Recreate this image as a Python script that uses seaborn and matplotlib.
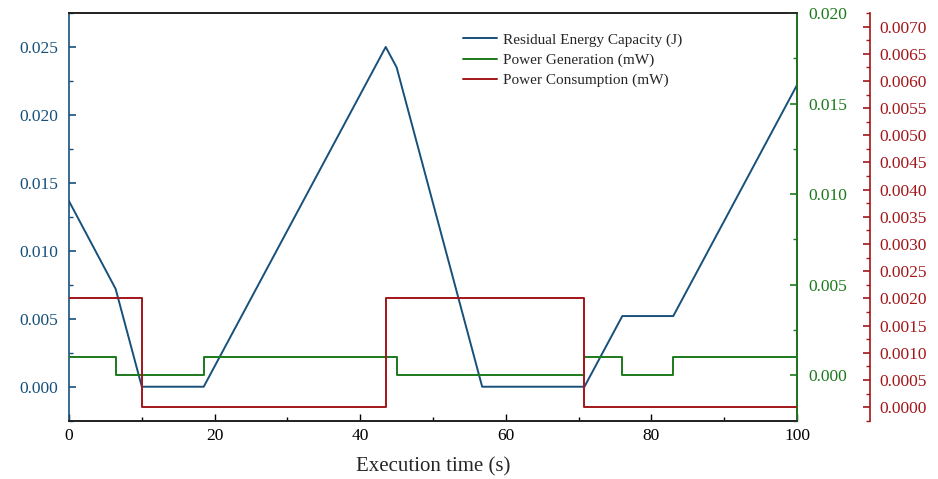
import numpy as np
import pandas as pd
import matplotlib
matplotlib.use("Agg")
import matplotlib.pyplot as plt
from matplotlib.ticker import MultipleLocator
import seaborn as sns

# residual energy capacity (J), piecewise linear
energy_t = [0, 6.4, 10, 18.5, 43.5, 45, 56.75, 70.8, 76, 83, 100]
energy_j = [0.01365, 0.0072, 0.0, 0.0, 0.025, 0.0235, 0.0, 0.0, 0.0052, 0.0052, 0.0222]

# power generation (mW), step changes
gen_t = [0, 6.4, 18.5, 45, 70.8, 76, 83, 100]
gen_mw = [0.001, 0.0, 0.001, 0.0, 0.001, 0.0, 0.001, 0.001]

# power consumption (mW), step changes
cons_t = [0, 10, 43.5, 70.8, 100]
cons_mw = [0.002, 0.0, 0.002, 0.0, 0.0]

c_blue = "#17507a"
c_green = "#1c7a1c"
c_red = "#a3161a"

sns.set_theme(style="white")
plt.rcParams['font.family'] = ['Liberation Serif', 'DejaVu Serif']

fig = plt.figure(figsize=(9.38, 4.79), dpi=100)
ax = fig.add_axes([0.0736, 0.1217, 0.7761, 0.8512])
ax2 = ax.twinx()
ax3 = ax.twinx()

df_e = pd.DataFrame({"t": energy_t, "v": energy_j})
df_g = pd.DataFrame({"t": gen_t, "v": gen_mw})
df_c = pd.DataFrame({"t": cons_t, "v": cons_mw})

sns.lineplot(data=df_e, x="t", y="v", ax=ax, color=c_blue, lw=1.4,
             label="Residual Energy Capacity (J)", legend=False)
sns.lineplot(data=df_g, x="t", y="v", ax=ax2, color=c_green, lw=1.4,
             drawstyle="steps-post", label="Power Generation (mW)", legend=False)
sns.lineplot(data=df_c, x="t", y="v", ax=ax3, color=c_red, lw=1.4,
             drawstyle="steps-post", label="Power Consumption (mW)", legend=False)

ax.set_xlim(0, 100)
ax.set_ylim(-0.0025, 0.0275)
ax2.set_ylim(-0.0025, 0.020)
ax3.set_ylim(-0.00025, 0.00725)

ax.xaxis.set_major_locator(MultipleLocator(20))
ax.xaxis.set_minor_locator(MultipleLocator(10))
ax.yaxis.set_major_locator(MultipleLocator(0.005))
ax.yaxis.set_minor_locator(MultipleLocator(0.0025))
ax2.yaxis.set_major_locator(MultipleLocator(0.005))
ax2.yaxis.set_minor_locator(MultipleLocator(0.0025))
ax3.yaxis.set_major_locator(MultipleLocator(0.0005))
ax3.yaxis.set_minor_locator(MultipleLocator(0.00025))

ax.yaxis.set_major_formatter(lambda v, p: f"{v:.3f}")
ax2.yaxis.set_major_formatter(lambda v, p: f"{v:.3f}")
ax3.yaxis.set_major_formatter(lambda v, p: f"{v:.4f}")

ax.set_xlabel("Execution time (s)", fontsize=15, labelpad=10)
ax.set_ylabel("")
ax2.set_ylabel("")
ax3.set_ylabel("")

# spines
for a in (ax, ax2, ax3):
    for s in a.spines.values():
        s.set_linewidth(1.2)
ax.spines['left'].set_color(c_blue)
ax.spines['top'].set_color("black")
ax.spines['bottom'].set_color("black")
ax2.spines['right'].set_color(c_green)
ax2.spines['left'].set_visible(False)
ax3.spines['right'].set_position(('outward', 52.5))
ax3.spines['right'].set_color(c_red)
for s in ('left', 'top', 'bottom'):
    ax3.spines[s].set_visible(False)

ax.tick_params(axis='x', which='both', direction='in', bottom=True, colors='black', labelsize=12.5, pad=5)
ax.tick_params(axis='x', which='major', length=5, width=1)
ax.tick_params(axis='x', which='minor', length=3, width=1)
ax.tick_params(axis='y', which='both', direction='in', left=True, colors=c_blue, labelsize=12.5, pad=8)
ax.tick_params(axis='y', which='major', length=5, width=1.2)
ax.tick_params(axis='y', which='minor', length=3, width=1)
ax2.tick_params(axis='y', which='both', direction='in', right=True, colors=c_green, labelsize=12.5, pad=8)
ax2.tick_params(axis='y', which='major', length=5, width=1.2)
ax2.tick_params(axis='y', which='minor', length=3, width=1)
ax3.tick_params(axis='y', which='both', direction='in', right=True, colors=c_red, labelsize=12.5, pad=7)
ax3.tick_params(axis='y', which='major', length=5, width=1.2)
ax3.tick_params(axis='y', which='minor', length=3, width=1)

handles = []
labels = []
for a in (ax, ax2, ax3):
    h, l = a.get_legend_handles_labels()
    handles += h
    labels += l
fig.legend(handles, labels, loc='upper left', bbox_to_anchor=(0.487, 0.944),
           frameon=False, fontsize=11, handlelength=2.2, handletextpad=0.4,
           labelspacing=0.42, borderaxespad=0)

fig.savefig("out.png", dpi=100)
